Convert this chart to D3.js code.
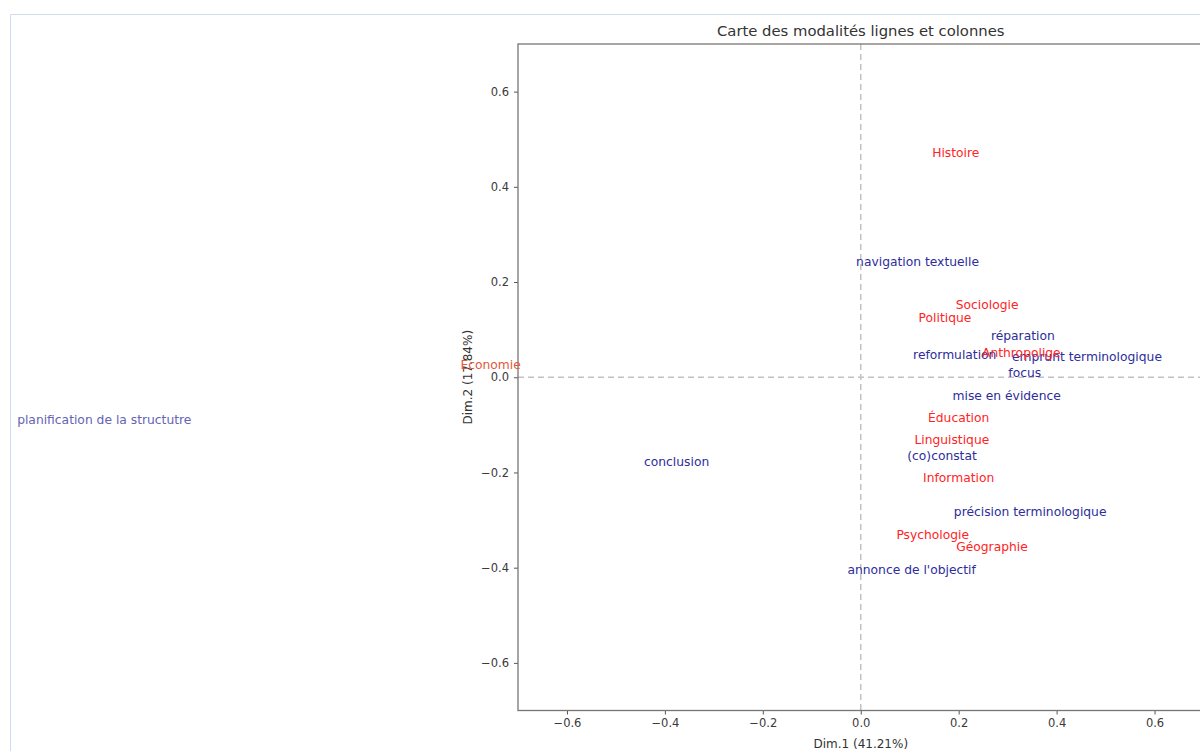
<!DOCTYPE html>
<html><head><meta charset="utf-8">
<script src="https://cdn.jsdelivr.net/npm/d3@7"></script>
<style>
html,body{margin:0;padding:0;background:#fff;}
svg{display:block;font-family:"DejaVu Sans",sans-serif;}
</style></head>
<body>
<svg id="chart" width="1200" height="751"></svg>
<script>
// Row modalities (disciplines) - red
const rowLabels = ["Histoire","Sociologie","Politique","Anthropolige","Économie","Éducation","Linguistique","Information","Psychologie","Géographie"];
const rowX = [0.194, 0.258, 0.172, 0.328, -0.756, 0.200, 0.186, 0.200, 0.147, 0.268];
const rowY = [0.471, 0.151, 0.124, 0.050, 0.025, -0.086, -0.132, -0.212, -0.332, -0.357];
// Column modalities (functions) - blue
const colLabels = ["navigation textuelle","réparation","reformulation","emprunt terminologique","focus","mise en évidence","(co)constat","conclusion","précision terminologique","annonce de l'objectif","planification de la structutre"];
const colX = [0.116, 0.331, 0.192, 0.462, 0.335, 0.298, 0.166, -0.376, 0.346, 0.104, -1.545];
const colY = [0.242, 0.086, 0.046, 0.042, 0.008, -0.040, -0.166, -0.179, -0.284, -0.405, -0.090];
const xTicks = [-0.6,-0.4,-0.2,0.0,0.2,0.4,0.6];
const yTicks = [-0.6,-0.4,-0.2,0.0,0.2,0.4,0.6];
const title = "Carte des modalités lignes et colonnes";
const xLabel = "Dim.1 (41.21%)";
const yLabel = "Dim.2 (17.84%)";

(function(){
const svg = d3.select("#chart");
// notebook output border
svg.append("line").attr("x1",10.5).attr("x2",10.5).attr("y1",14.5).attr("y2",751).attr("stroke","#cfdcee").attr("stroke-width",1);
svg.append("line").attr("x1",10.5).attr("x2",1200).attr("y1",14.5).attr("y2",14.5).attr("stroke","#cfdcee").attr("stroke-width",1);

const pL=518, pR=1203.5, pT=44, pB=710.5;
const x = d3.scaleLinear().domain([-0.7,0.7]).range([pL,pR]);
const y = d3.scaleLinear().domain([-0.7,0.7]).range([pB,pT]);

// dashed reference lines
svg.append("line").attr("x1",pL).attr("x2",pR).attr("y1",y(0)).attr("y2",y(0))
  .attr("stroke","#c2c2c2").attr("stroke-width",1.5).attr("stroke-dasharray","6,4");
svg.append("line").attr("x1",x(0)).attr("x2",x(0)).attr("y1",pT).attr("y2",pB)
  .attr("stroke","#c2c2c2").attr("stroke-width",1.5).attr("stroke-dasharray","6,4");

// axes
const fmt = d3.format(".1f");
const xAxis = svg.append("g").attr("transform",`translate(0,${pB})`)
  .call(d3.axisBottom(x).tickValues(xTicks).tickFormat(fmt).tickSize(4).tickPadding(4));
const yAxis = svg.append("g").attr("transform",`translate(${pL},0)`)
  .call(d3.axisLeft(y).tickValues(yTicks).tickFormat(fmt).tickSize(4).tickPadding(5));
[xAxis,yAxis].forEach(g=>{
  g.select(".domain").remove();
  g.selectAll(".tick line").attr("stroke","#555");
  g.selectAll(".tick text").attr("fill","#3a3a3a").style("font-size","11.5px").style("font-family","DejaVu Sans");
});

// frame
svg.append("rect").attr("x",pL).attr("y",pT).attr("width",pR-pL).attr("height",pB-pT)
  .attr("fill","none").attr("stroke","#7a7570").attr("stroke-width",1.3);

// title & labels
svg.append("text").attr("x",(pL+pR)/2).attr("y",36).attr("text-anchor","middle")
  .attr("fill","#333").style("font-size","14.8px").text(title);
svg.append("text").attr("x",(pL+pR)/2).attr("y",748).attr("text-anchor","middle")
  .attr("fill","#333").style("font-size","12px").text(xLabel);
svg.append("text").attr("transform",`translate(472,${y(0)}) rotate(-90)`).attr("text-anchor","middle")
  .attr("fill","#333").style("font-size","12px").text(yLabel);

const inside = (vx)=> vx>=-0.7 && vx<=0.7;
// column labels (blue)
svg.append("g").selectAll("text").data(colLabels).join("text")
  .attr("x",(d,i)=>x(colX[i])).attr("y",(d,i)=>y(colY[i]))
  .attr("text-anchor","middle").attr("dominant-baseline","central")
  .attr("fill",(d,i)=>inside(colX[i])?"#2d2d9c":"#6464b4")
  .style("font-size","12.3px").text(d=>d);
// row labels (red)
svg.append("g").selectAll("text").data(rowLabels).join("text")
  .attr("x",(d,i)=>x(rowX[i])).attr("y",(d,i)=>y(rowY[i]))
  .attr("text-anchor","middle").attr("dominant-baseline","central")
  .attr("fill",(d,i)=>inside(rowX[i])?"#ff2424":"#e05a3c")
  .style("font-size","12.3px").text(d=>d);
})();
</script>
</body></html>
